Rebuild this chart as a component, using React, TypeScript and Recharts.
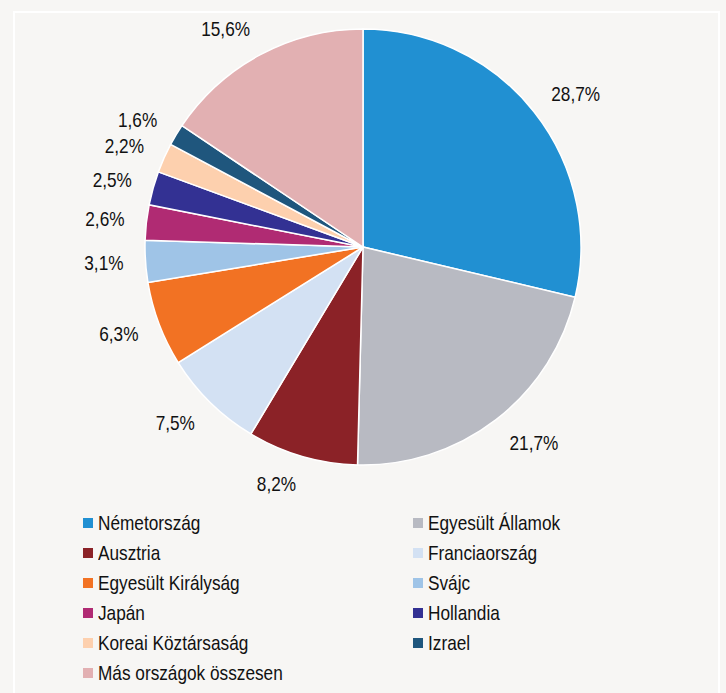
import { PieChart, Pie, Cell, Legend } from 'recharts';

const countries = [
  'Németország',
  'Egyesült Államok',
  'Ausztria',
  'Franciaország',
  'Egyesült Királyság',
  'Svájc',
  'Japán',
  'Hollandia',
  'Koreai Köztársaság',
  'Izrael',
  'Más országok összesen',
];

const shares = [28.7, 21.7, 8.2, 7.5, 6.3, 3.1, 2.6, 2.5, 2.2, 1.6, 15.6];

const colors = [
  '#2190d2',
  '#b8bac2',
  '#8b2227',
  '#d3e1f3',
  '#f27223',
  '#9fc4e7',
  '#b02b73',
  '#333193',
  '#fdd0ae',
  '#1f567d',
  '#e2b0b2',
];

const data = countries.map((name, i) => ({ name, value: shares[i] }));

// no narrow font installed: squeeze Liberation Sans horizontally instead
const FONT = '"Liberation Sans", Arial, sans-serif';
const SQUEEZE = 0.82;
const RAD = Math.PI / 180;

function renderLabel(props: any) {
  const { cx, cy, midAngle, value } = props;
  const c = Math.cos(midAngle * RAD);
  const x = cx + 240 * c;
  const y = cy - 247 * Math.sin(midAngle * RAD);
  return (
    <text
      transform={`translate(${x},${y}) scale(${SQUEEZE},1)`}
      fill="#111"
      fontSize={21}
      fontFamily={FONT}
      textAnchor={c >= 0 ? 'start' : 'end'}
      dominantBaseline="central"
    >
      {value.toFixed(1).replace('.', ',')}%
    </text>
  );
}

function LegendGrid() {
  return (
    <div
      style={{
        display: 'grid',
        gridTemplateColumns: '330px 330px',
        paddingLeft: 83,
        fontFamily: FONT,
        fontSize: 21,
        color: '#111',
      }}
    >
      {data.map((d, i) => (
        <div key={d.name} style={{ height: 30, display: 'flex', alignItems: 'center' }}>
          <span
            style={{
              width: 10,
              height: 10,
              background: colors[i],
              marginRight: 5,
              display: 'inline-block',
              flexShrink: 0,
            }}
          />
          <span
            style={{
              display: 'inline-block',
              whiteSpace: 'nowrap',
              transform: `scaleX(${SQUEEZE})`,
              transformOrigin: 'left center',
            }}
          >
            {d.name}
          </span>
        </div>
      ))}
    </div>
  );
}

export default function App() {
  return (
    <div
      style={{
        position: 'absolute',
        left: 0,
        top: 0,
        width: 726,
        height: 693,
        background: '#f7f6f4',
        overflow: 'hidden',
      }}
    >
      <div
        style={{
          position: 'absolute',
          left: 13,
          top: 11,
          width: 703,
          height: 720,
          borderLeft: '2px solid #fff',
          borderTop: '2px solid #fff',
          borderRight: '2px solid #fff',
        }}
      />
      <div style={{ position: 'absolute', left: 0, top: 0 }}>
        <PieChart width={726} height={693} margin={{ top: 0, right: 0, bottom: 0, left: 0 }}>
          <Pie
            data={data}
            dataKey="value"
            nameKey="name"
            cx={363}
            cy={247}
            outerRadius={218}
            startAngle={90}
            endAngle={-270}
            stroke="#fff"
            strokeWidth={1.5}
            label={renderLabel}
            labelLine={false}
            isAnimationActive={false}
          >
            {data.map((d, i) => (
              <Cell key={d.name} fill={colors[i]} />
            ))}
          </Pie>
          <Legend
            content={() => <LegendGrid />}
            wrapperStyle={{ position: 'absolute', top: 508, left: 0, width: 726 }}
          />
        </PieChart>
      </div>
    </div>
  );
}
